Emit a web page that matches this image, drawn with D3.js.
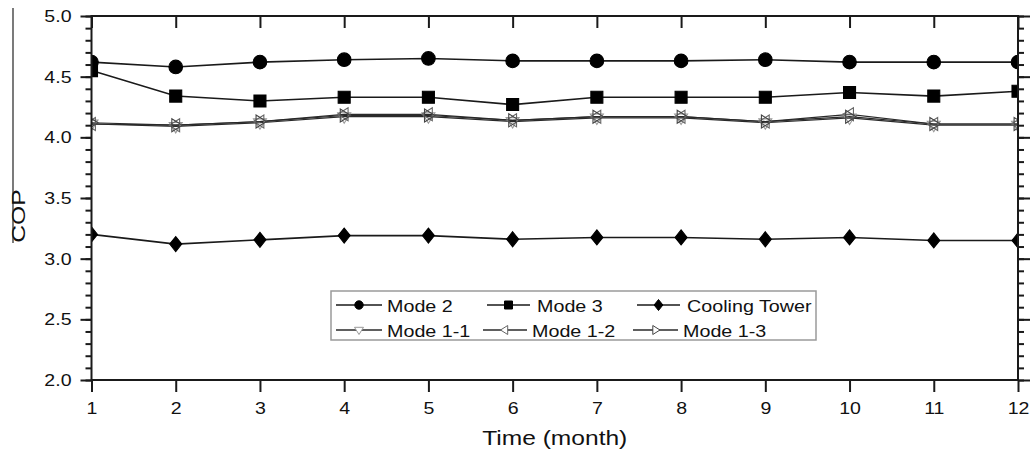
<!DOCTYPE html>
<html><head><meta charset="utf-8">
<script src="https://cdn.jsdelivr.net/npm/d3@7"></script>
<style>body{margin:0;background:#fff}svg{display:block}</style>
</head><body><svg id="c" width="1032" height="453"></svg>
<script>
const months = [1,2,3,4,5,6,7,8,9,10,11,12];
const mode2 = [4.62,4.58,4.62,4.64,4.65,4.63,4.63,4.63,4.64,4.62,4.62,4.62];
const mode3 = [4.55,4.34,4.30,4.33,4.33,4.27,4.33,4.33,4.33,4.37,4.34,4.38];
const coolingTower = [3.20,3.12,3.155,3.19,3.19,3.16,3.175,3.175,3.16,3.175,3.15,3.15];
const mode11 = [4.11,4.09,4.12,4.17,4.17,4.13,4.16,4.16,4.12,4.16,4.10,4.10];
const mode12 = [4.11,4.10,4.13,4.19,4.19,4.14,4.17,4.17,4.13,4.19,4.11,4.11];
const mode13 = [4.12,4.10,4.13,4.18,4.18,4.14,4.17,4.17,4.13,4.17,4.11,4.11];
const yTicks = [2.0,2.5,3.0,3.5,4.0,4.5,5.0];
const yMinorTicks = d3.range(20,51).map(d=>d/10);
const xTicks = months;

const svg = d3.select("#c");
const L=91.5, R=1018, T=16, B=380;
const x = d3.scaleLinear().domain([1,12]).range([L,R]);
const y = d3.scaleLinear().domain([2,5]).range([B,T]);
const ink = "#1a1a1a";
const font = "'Liberation Sans', Arial, sans-serif";

function stretchText(sel, k){
  sel.each(function(){
    const t=d3.select(this);
    const tx=+t.attr("x")||0, ty=+t.attr("y")||0;
    t.attr("x",0).attr("y",0).attr("transform",`translate(${tx},${ty}) scale(${k},1)`);
  });
}

// symbol paths
function sym(type, s){
  switch(type){
    case "circle": return `M${s},0A${s},${s} 0 1,1 ${-s},0A${s},${s} 0 1,1 ${s},0Z`;
    case "square": return `M${-s},${-s}H${s}V${s}H${-s}Z`;
    case "diamond": return `M0,${-s}L${s*0.8},0L0,${s}L${-s*0.8},0Z`;
    case "down": return `M${-s},${-s*0.6}L${s},${-s*0.6}L0,${s}Z`;
    case "left": return `M${-s},0L${s*0.6},${-s}L${s*0.6},${s}Z`;
    case "right": return `M${s},0L${-s*0.6},${-s}L${-s*0.6},${s}Z`;
  }
}

const series = [
  {name:"Mode 1-1", values:mode11, type:"down", fill:"none", stroke:"#9a9a9a", size:6.5, lw:1.2, line:"#2a2a2a"},
  {name:"Mode 1-2", values:mode12, type:"left", fill:"none", stroke:"#666", size:6.5, lw:1.2, line:"#2a2a2a"},
  {name:"Mode 1-3", values:mode13, type:"right", fill:"none", stroke:"#444", size:6.5, lw:1.2, line:"#2a2a2a"},
  {name:"Cooling Tower", values:coolingTower, type:"diamond", fill:"#000", stroke:"#000", size:7.5, lw:1.6, line:ink},
  {name:"Mode 3", values:mode3, type:"square", fill:"#000", stroke:"#000", size:6, lw:1.6, line:ink},
  {name:"Mode 2", values:mode2, type:"circle", fill:"#000", stroke:"#000", size:6.8, lw:1.6, line:ink}
];

svg.append("clipPath").attr("id","clip").append("rect")
  .attr("x",L).attr("y",T).attr("width",R-L).attr("height",B-T);

const plot = svg.append("g").attr("clip-path","url(#clip)");
const lineGen = d3.line().x((d,i)=>x(months[i])).y(d=>y(d));
series.forEach(s=>{
  plot.append("path").datum(s.values).attr("d",lineGen)
    .attr("fill","none").attr("stroke",s.line).attr("stroke-width",s.lw);
});
series.forEach(s=>{
  plot.selectAll(null).data(s.values).enter().append("path")
    .attr("transform",(d,i)=>`translate(${x(months[i])},${y(d)})`)
    .attr("d",sym(s.type,s.size))
    .attr("fill",s.fill).attr("stroke",s.stroke).attr("stroke-width",1.1);
});

// axes
function styleAxis(g){
  g.select(".domain").remove();
  g.selectAll("line").attr("stroke",ink).attr("stroke-width",2);
  g.selectAll("text").attr("fill","#111").style("font-family",font).style("font-size","17px");
}
// left minor
svg.append("g").attr("transform",`translate(${L},0)`)
  .call(d3.axisLeft(y).tickValues(yMinorTicks).tickSize(6).tickFormat(""))
  .call(styleAxis);
const gl = svg.append("g").attr("transform",`translate(${L},0)`)
  .call(d3.axisLeft(y).tickValues(yTicks).tickSize(11).tickPadding(9).tickFormat(d3.format(".1f")))
  .call(styleAxis);
stretchText(gl.selectAll("text"),1.15);
// right
svg.append("g").attr("transform",`translate(${R},0)`)
  .call(d3.axisRight(y).tickValues(yMinorTicks).tickSize(6).tickFormat(""))
  .call(styleAxis);
svg.append("g").attr("transform",`translate(${R},0)`)
  .call(d3.axisRight(y).tickValues(yTicks).tickSize(12).tickFormat(""))
  .call(styleAxis);
// bottom
const gb = svg.append("g").attr("transform",`translate(0,${B})`)
  .call(d3.axisBottom(x).tickValues(xTicks).tickSize(12).tickPadding(10).tickFormat(d3.format("d")))
  .call(styleAxis);
stretchText(gb.selectAll("text"),1.15);
// top (inward)
svg.append("g").attr("transform",`translate(0,${T})`)
  .call(d3.axisBottom(x).tickValues(xTicks).tickSize(12).tickFormat(""))
  .call(styleAxis);

// frame
svg.append("rect").attr("x",L).attr("y",T).attr("width",R-L).attr("height",B-T)
  .attr("fill","none").attr("stroke",ink).attr("stroke-width",2);

// stray left line
svg.append("line").attr("x1",13).attr("x2",13).attr("y1",8).attr("y2",243)
  .attr("stroke","#222").attr("stroke-width",1.2);

// axis titles
svg.append("text").attr("transform",`translate(${(L+R)/2},445) scale(1.17,1)`)
  .attr("text-anchor","middle").style("font-family",font).style("font-size","21px").attr("fill","#111")
  .text("Time (month)");
svg.append("text").attr("transform",`translate(25,216) rotate(-90) scale(1.3,1)`)
  .attr("text-anchor","middle").style("font-family",font).style("font-size","19px").attr("fill","#111")
  .text("COP");

// legend
const leg = svg.append("g");
leg.append("rect").attr("x",331).attr("y",291).attr("width",485).attr("height",49)
  .attr("fill","#fff").attr("stroke","#9a9a9a").attr("stroke-width",1.5);
const legendOrder = ["Mode 2","Mode 3","Cooling Tower","Mode 1-1","Mode 1-2","Mode 1-3"];
const legendPos = [
  {x0:336,x1:382,tx:387,y:305},{x0:487,x1:530,tx:537,y:305},{x0:637,x1:680,tx:687,y:305},
  {x0:336,x1:382,tx:387,y:330},{x0:483,x1:527,tx:532,y:330},{x0:633,x1:678,tx:683,y:330}
];
const legSize = {circle:4.2,square:4,diamond:5.5,down:4.5,left:4.5,right:4.5};
legendOrder.forEach((n,i)=>{
  const s = series.find(d=>d.name===n), p=legendPos[i];
  leg.append("line").attr("x1",p.x0).attr("x2",p.x1).attr("y1",p.y).attr("y2",p.y)
    .attr("stroke",s.line).attr("stroke-width",1.3);
  leg.append("path").attr("transform",`translate(${(p.x0+p.x1)/2},${p.y})`)
    .attr("d",sym(s.type,legSize[s.type]))
    .attr("fill",s.fill==="none"?"#fff":s.fill).attr("stroke",s.stroke).attr("stroke-width",1);
  leg.append("text").attr("transform",`translate(${p.tx},${p.y+7}) scale(1.16,1)`)
    .style("font-family",font).style("font-size","17px").attr("fill","#111").text(n);
});
</script>
</body></html>
